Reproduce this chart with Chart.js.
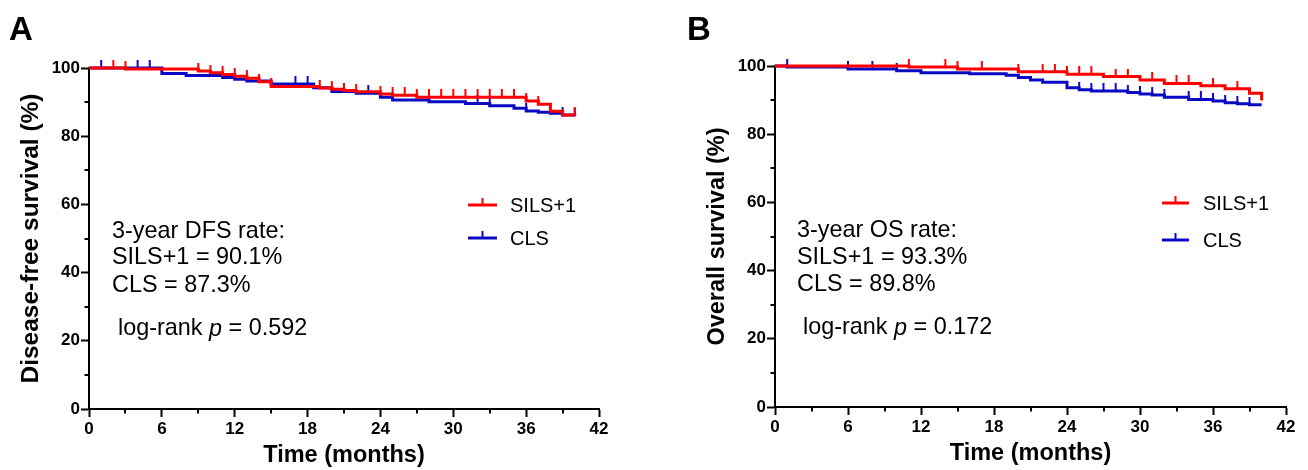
<!DOCTYPE html>
<html><head><meta charset="utf-8">
<script src="https://cdn.jsdelivr.net/npm/chart.js@4.4.1/dist/chart.umd.min.js"></script>
<style>
html,body{margin:0;padding:0;background:#fff;}
#wrap{position:relative;width:1308px;height:470px;overflow:hidden;}
.pane{position:absolute;top:0;width:654px;height:470px;}
</style></head><body>
<div id="wrap">
<div class="pane" style="left:0"><canvas id="cA" width="654" height="470"></canvas></div>
<div class="pane" style="left:654px"><canvas id="cB" width="654" height="470"></canvas></div>
</div>
<script>
// ---------- data ----------
const monthTicks = [0, 6, 12, 18, 24, 30, 36, 42];
const monthMinorTicks = [3, 9, 15, 21, 27, 33, 39];
const percentTicks = [0, 20, 40, 60, 80, 100];
const percentMinorTicks = [10, 30, 50, 70, 90];
const groupNames = ['SILS+1', 'CLS'];

// Panel A: disease-free survival (step times in months, survival %)
const dfsTimesSILS = [0, 3, 9, 10, 11, 12, 13, 14, 15, 19, 20, 21, 22, 24, 25, 27, 36, 37, 38, 39, 40];
const dfsSILS      = [100, 99.7, 99.1, 98.6, 98.1, 97.6, 97.0, 96.0, 94.6, 94.1, 93.8, 93.4, 93.0, 92.4, 92.0, 91.4, 90.3, 89.4, 87.3, 86.2, 86.2];
const dfsCensorSILS = [2, 3, 9, 10, 11, 12, 13, 14, 15, 19, 20, 21, 22, 24, 25, 26, 27, 28, 29, 30, 31, 32, 33, 34, 35, 36, 37, 40];
const dfsTimesCLS = [0, 6, 8, 11, 12, 13, 15, 18.5, 20, 22, 24, 25, 28, 31, 33, 35, 36, 37, 38, 39, 40];
const dfsCLS      = [100, 98.4, 97.8, 97.2, 96.7, 96.2, 95.3, 94.2, 93.1, 92.6, 91.4, 90.6, 90.1, 89.6, 88.9, 88.2, 87.4, 87.0, 86.7, 86.2, 86.0];
const dfsCensorCLS = [1, 4, 5, 17, 18, 23, 32, 33, 36, 39, 40];

// Panel B: overall survival
const osTimesSILS = [0, 11, 15, 20, 24, 27, 30, 32, 35, 37, 39, 40];
const osSILS      = [100, 99.7, 99.1, 98.3, 97.6, 96.9, 95.9, 94.9, 94.2, 93.3, 92.0, 90.0];
const osCensorSILS = [11, 14, 15, 17, 20, 22, 23, 24, 25, 26, 28, 29, 31, 33, 34, 36, 38, 40];
const osTimesCLS = [0, 1, 6, 10, 12, 16, 19, 20, 21, 22, 24, 25, 26, 29, 30, 31, 32, 34, 36, 37, 38, 39, 40];
const osCLS      = [100, 99.7, 99.1, 98.6, 98.0, 97.7, 97.3, 96.6, 95.9, 95.2, 93.6, 93.0, 92.7, 92.2, 91.8, 91.5, 90.8, 90.2, 89.7, 89.2, 88.9, 88.6, 88.6];
const osCensorCLS = [1, 6, 8, 10, 25, 26, 27, 28, 29, 30, 31, 32, 34, 35, 36, 37, 38, 39];

const textA = ['3-year DFS rate:', 'SILS+1 = 90.1%', 'CLS = 87.3%'];
const pA = '0.592';
const textB = ['3-year OS rate:', 'SILS+1 = 93.3%', 'CLS = 89.8%'];
const pB = '0.172';

// ---------- helpers ----------
const RED = '#ff0000', BLUE = '#0a0ac4';
const FONT = '"Liberation Sans", Arial, Helvetica, sans-serif';

function stepAt(times, vals, t) {
  let v = vals[0];
  for (let i = 0; i < times.length; i++) if (times[i] <= t) v = vals[i];
  return v;
}
function curve(times, vals) { return times.map((t, i) => ({x: t, y: vals[i]})); }
function censor(times, vals, cens) { return cens.map(t => ({x: t, y: stepAt(times, vals, t)})); }
function tickImage(color) {
  const c = document.createElement('canvas');
  c.width = 4; c.height = 16;
  const g = c.getContext('2d');
  g.fillStyle = color;
  g.fillRect(1, 0, 2, 8.5);
  return c;
}
const tickRed = tickImage(RED), tickBlue = tickImage(BLUE);

const extrasPlugin = {
  id: 'extras',
  afterDraw(chart, args, o) {
    const ctx = chart.ctx;
    const xs = chart.scales.x, ys = chart.scales.y;
    ctx.save();
    // minor ticks
    ctx.strokeStyle = '#000'; ctx.lineWidth = 2;
    monthMinorTicks.forEach(v => {
      const px = Math.round(xs.getPixelForValue(v));
      ctx.beginPath(); ctx.moveTo(px, ys.bottom); ctx.lineTo(px, ys.bottom + 4.5); ctx.stroke();
    });
    percentMinorTicks.forEach(v => {
      const py = Math.round(ys.getPixelForValue(v));
      ctx.beginPath(); ctx.moveTo(xs.left, py); ctx.lineTo(xs.left - 4.5, py); ctx.stroke();
    });
    // panel letter
    ctx.fillStyle = '#000';
    ctx.font = 'bold 33px ' + FONT;
    ctx.textBaseline = 'alphabetic'; ctx.textAlign = 'left';
    ctx.fillText(o.letter, o.letterX, 40);
    // annotation
    const fs = '23.4px ';
    ctx.font = fs + FONT;
    ctx.textBaseline = 'middle';
    o.lines.forEach((s, i) => ctx.fillText(s, o.textX, o.textY[i]));
    let x = o.pX;
    const y = o.textY[3];
    ctx.fillText('log-rank ', x, y); x += ctx.measureText('log-rank ').width;
    ctx.font = 'italic ' + fs + FONT;
    ctx.fillText('p', x, y); x += ctx.measureText('p').width;
    ctx.font = fs + FONT;
    ctx.fillText(' = ' + o.p, x, y);
    // legend
    const cols = [RED, BLUE];
    ctx.font = '20px ' + FONT;
    groupNames.forEach((name, i) => {
      const ly = o.legY[i];
      ctx.strokeStyle = cols[i]; ctx.lineWidth = 3;
      ctx.beginPath(); ctx.moveTo(o.legX, ly); ctx.lineTo(o.legX + o.legW, ly); ctx.stroke();
      ctx.lineWidth = 2;
      const mx = o.legX + o.legW / 2;
      ctx.beginPath(); ctx.moveTo(mx, ly); ctx.lineTo(mx, ly - 7); ctx.stroke();
      ctx.fillStyle = '#000';
      ctx.fillText(name, o.legTextX, ly + 1);
    });
    ctx.restore();
  }
};

function makeChart(id, d, cfg) {
  return new Chart(document.getElementById(id), {
    type: 'line',
    data: {
      datasets: [
        {data: censor(d.tS, d.vS, d.cS), showLine: false, pointStyle: tickRed, pointRadius: 3, pointHoverRadius: 3, clip: false, borderColor: RED, backgroundColor: RED},
        {data: curve(d.tS, d.vS), stepped: 'before', borderColor: RED, borderWidth: 3, pointRadius: 0, clip: false, fill: false},
        {data: censor(d.tC, d.vC, d.cC), showLine: false, pointStyle: tickBlue, pointRadius: 3, pointHoverRadius: 3, clip: false, borderColor: BLUE, backgroundColor: BLUE},
        {data: curve(d.tC, d.vC), stepped: 'before', borderColor: BLUE, borderWidth: 3, pointRadius: 0, clip: false, fill: false}
      ]
    },
    options: {
      responsive: false,
      animation: false,
      devicePixelRatio: 1,
      events: [],
      layout: {padding: {left: cfg.padLeft, right: cfg.padRight, top: cfg.top, bottom: 0}},
      plugins: {legend: {display: false}, tooltip: {enabled: false}, extras: cfg.extras},
      scales: {
        x: {
          type: 'linear', min: 0, max: 42,
          afterBuildTicks: s => { s.ticks = monthTicks.map(v => ({value: v})); },
          afterFit: s => { s.height = cfg.xHeight; },
          ticks: {color: '#000', font: {family: FONT, size: 17, weight: 'bold'}, padding: 2, maxRotation: 0, autoSkip: false},
          grid: {display: true, drawOnChartArea: false, drawTicks: true, tickLength: 8, tickWidth: 2, tickColor: '#000'},
          border: {display: true, color: '#000', width: 2},
          title: {display: true, text: 'Time (months)', color: '#000', font: {family: FONT, size: 23.5, weight: 'bold'}, padding: {top: 0, bottom: cfg.xTitlePad}}
        },
        y: {
          type: 'linear', min: 0, max: 100,
          afterBuildTicks: s => { s.ticks = percentTicks.map(v => ({value: v})); },
          afterFit: s => { s.width = 89; },
          ticks: {color: '#000', font: {family: FONT, size: 17, weight: 'bold'}, padding: 1},
          grid: {display: true, drawOnChartArea: false, drawTicks: true, tickLength: 8, tickWidth: 2, tickColor: '#000'},
          border: {display: true, color: '#000', width: 2},
          title: {display: true, text: cfg.yTitle, color: '#000', font: {family: FONT, size: cfg.yTitleSize, weight: 'bold'}, padding: {top: 17, bottom: 0}}
        }
      }
    },
    plugins: [extrasPlugin]
  });
}

makeChart('cA',
  {tS: dfsTimesSILS, vS: dfsSILS, cS: dfsCensorSILS, tC: dfsTimesCLS, vC: dfsCLS, cC: dfsCensorCLS},
  {padLeft: 0, padRight: 55, top: 68, xHeight: 61, xTitlePad: 0, yTitle: 'Disease-free survival (%)', yTitleSize: 24.5,
   extras: {letter: 'A', letterX: 9, lines: textA, p: pA, textX: 112, pX: 118, textY: [232, 258, 286, 329],
            legX: 468, legW: 29, legTextX: 510, legY: [205, 238]}});

makeChart('cB',
  {tS: osTimesSILS, vS: osSILS, cS: osCensorSILS, tC: osTimesCLS, vC: osCLS, cC: osCensorCLS},
  {padLeft: 32, padRight: 22, top: 66, xHeight: 63, xTitlePad: 2, yTitle: 'Overall survival (%)', yTitleSize: 23.5,
   extras: {letter: 'B', letterX: 33, lines: textB, p: pB, textX: 143, pX: 149, textY: [231, 258, 285, 328],
            legX: 508, legW: 27, legTextX: 549, legY: [203, 240]}});
</script>
</body></html>
